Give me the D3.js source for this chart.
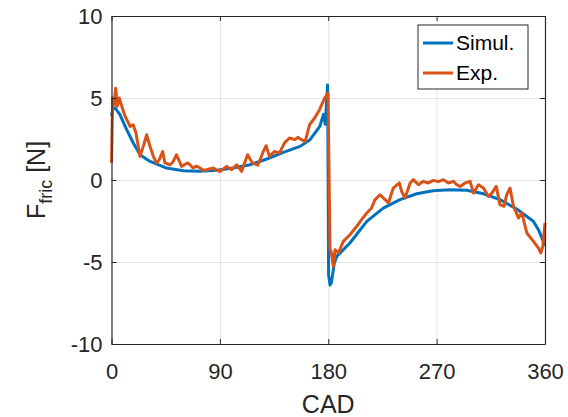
<!DOCTYPE html>
<html lang="en">
<head>
<meta charset="UTF-8">
<title>Friction force vs CAD</title>
<script src="https://cdnjs.cloudflare.com/ajax/libs/d3/7.8.5/d3.min.js"></script>
<style>
    * { margin: 0; padding: 0; }
    body { background: #fff; width: 568px; height: 417px; overflow: hidden; }
    text { font-family: 'Liberation Sans', Arial, sans-serif; }
</style>
</head>
<body>
<div id="chart"></div>
<script>
    // Simulated friction force (smooth)
    const simDeg = [0, 1, 3, 7, 12.6, 18, 23.7, 32, 45.8, 59.6, 73.5, 87.4, 101, 115, 129, 142.7, 156.6, 164.9, 173, 176, 177.5, 179.5,
        180.3, 181.5, 182.5, 185, 187, 198, 212, 225.7, 239.6, 253.5, 267, 281, 295, 309, 322.6, 336.5, 350.3, 355, 360];
    const simVal = [3.9, 4.3, 4.4, 3.98, 3.07, 2.27, 1.54, 1.13, 0.73, 0.57, 0.53, 0.59, 0.73, 0.93, 1.28, 1.68, 2.05, 2.46, 3.27, 4.0, 3.4, 5.8,
        -5.8, -6.4, -6.3, -5.1, -4.66, -3.84, -2.52, -1.71, -1.2, -0.84, -0.65, -0.59, -0.63, -0.84, -1.2, -1.77, -2.52, -3.1, -4.0];

    // Measured friction force (noisy)
    const expDeg = [0, 1, 2.2, 3.5, 4.8, 6.5, 8.5, 11.2, 13.3, 15.4, 18, 20.3, 23.7, 26.4, 29.2, 32, 34.7, 37.5, 39.7, 42.5, 44.4, 48.6,
        51, 54, 58.2, 61, 63.6, 67.8, 70.5, 73.5, 76, 79, 84.6, 87.5, 90, 95.7, 99.8, 104, 108, 113, 117, 121.5, 125.6, 128.4, 131.2,
        135.3, 139.5, 143.7, 147.8, 152, 155, 157.6, 160.9, 164.5, 168.7, 172.8, 177, 179.8, 181.5, 182.5, 184.2, 185.6, 188.4,
        192.5, 198, 203.6, 207.7, 212, 216, 218.8, 223, 227.2, 230, 234, 239, 241, 243.8, 248, 250.7, 254.9, 259, 263.1, 267.3,
        271.4, 275.6, 279.8, 284, 286.7, 289.5, 293.6, 297.8, 300.6, 304.7, 308.9, 313, 315.9, 319.5, 322.6, 326, 328.2, 331,
        333.8, 338, 340.7, 344.9, 350.4, 354.6, 356.5, 358.2, 360];
    const expVal = [1.05, 5.0, 4.6, 5.6, 4.5, 5.0, 4.5, 3.9, 3.6, 3.27, 3.37, 2.86, 1.44, 2.05, 2.76, 2.05, 1.44, 1.04, 1.24, 1.74, 1.04, 0.93,
        1.1, 1.54, 0.83, 0.95, 1.04, 0.73, 0.85, 0.73, 0.6, 0.63, 0.73, 0.6, 0.52, 0.83, 0.63, 0.93, 0.52, 1.54, 1.04, 0.9, 1.65, 2.09, 1.44,
        1.74, 1.65, 2.26, 2.56, 2.46, 2.6, 2.46, 2.35, 3.37, 3.78, 4.29, 5.0, 5.3, -4.25, -4.4, -5.27, -4.25, -4.45,
        -3.74, -3.34, -2.83, -2.42, -2.01, -1.71, -1.2, -0.9, -1.2, -1.4, -0.49, -0.18, -0.7, -1.1, -0.18, 0.02, -0.29, -0.08, -0.18, -0.02,
        -0.1, 0.02, -0.18, -0.08, -0.29, -0.39, -0.18, -0.08, -0.8, -0.29, -0.49, -1.0, -0.8, -0.39, -1.5, -1.6, -0.9, -0.49,
        -1.6, -2.32, -2.0, -3.23, -3.74, -4.15, -4.45, -4.05, -2.62];

    const xTicks = [0, 90, 180, 270, 360];
    const yTicks = [-10, -5, 0, 5, 10];
    const seriesNames = ['Simul.', 'Exp.'];
    const colors = ['#0072BD', '#D95319'];

    const W = 568, H = 417;
    const margin = {top: 16, right: 23, bottom: 73, left: 111.5};
    const width = W - margin.left - margin.right;
    const height = H - margin.top - margin.bottom;
    const axisColor = '#262626';

    const svg = d3.select('#chart').append('svg')
        .attr('width', W)
        .attr('height', H);

    const g = svg.append('g')
        .attr('transform', `translate(${margin.left},${margin.top})`);

    const x = d3.scaleLinear().domain([0, 360]).range([0, width]);
    const y = d3.scaleLinear().domain([-10, 10]).range([height, 0]);

    // Grid
    g.append('g')
        .attr('transform', `translate(0,${height})`)
        .call(d3.axisBottom(x).tickValues(xTicks.slice(1, -1)).tickSize(-height).tickFormat(''))
        .call(s => s.select('.domain').remove())
        .selectAll('line').attr('stroke', '#e3e3e3').attr('stroke-width', 1);
    g.append('g')
        .call(d3.axisLeft(y).tickValues(yTicks.slice(1, -1)).tickSize(-width).tickFormat(''))
        .call(s => s.select('.domain').remove())
        .selectAll('line').attr('stroke', '#e3e3e3').attr('stroke-width', 1);

    // Lines
    const line = d3.line().x(d => x(d[0])).y(d => y(d[1]));
    const series = [
        d3.zip(simDeg, simVal),
        d3.zip(expDeg, expVal)
    ];
    series.forEach((pts, i) => {
        g.append('path')
            .datum(pts)
            .attr('d', line)
            .attr('fill', 'none')
            .attr('stroke', colors[i])
            .attr('stroke-width', 3)
            .attr('stroke-linejoin', 'round');
    });

    // Axes (box with inward ticks), plain hyphen for negatives
    const fmt = d => String(d);
    function styleAxis(sel) {
        sel.select('.domain').attr('stroke', axisColor).attr('stroke-width', 1.2);
        sel.selectAll('.tick line').attr('stroke', axisColor).attr('stroke-width', 1);
        sel.selectAll('text').attr('fill', axisColor).style('font-size', '22px');
    }
    g.append('g')
        .attr('transform', `translate(0,${height})`)
        .call(d3.axisBottom(x).tickValues(xTicks).tickFormat(fmt).tickSizeInner(-5).tickSizeOuter(0).tickPadding(19))
        .call(styleAxis);
    g.append('g')
        .call(d3.axisTop(x).tickValues(xTicks).tickSizeInner(-5).tickSizeOuter(0).tickFormat(''))
        .call(styleAxis);
    g.append('g')
        .call(d3.axisLeft(y).tickValues(yTicks).tickFormat(fmt).tickSizeInner(-5).tickSizeOuter(0).tickPadding(9))
        .call(styleAxis);
    g.append('g')
        .attr('transform', `translate(${width},0)`)
        .call(d3.axisRight(y).tickValues(yTicks).tickSizeInner(-5).tickSizeOuter(0).tickFormat(''))
        .call(styleAxis);

    // Axis labels
    svg.append('text')
        .attr('x', margin.left + width / 2)
        .attr('y', 413)
        .attr('text-anchor', 'middle')
        .attr('fill', axisColor)
        .style('font-size', '25px')
        .text('CAD');

    const yl = svg.append('text')
        .attr('transform', `translate(45,${margin.top + height / 2}) rotate(-90)`)
        .attr('text-anchor', 'middle')
        .attr('fill', axisColor)
        .style('font-size', '25px');
    yl.append('tspan').text('F');
    yl.append('tspan').attr('dy', 7).style('font-size', '18px').text('fric');
    yl.append('tspan').attr('dy', -7).text(' [N]');

    // Legend
    const leg = svg.append('g').attr('transform', 'translate(418,25)');
    leg.append('rect')
        .attr('width', 110).attr('height', 64)
        .attr('fill', '#fff')
        .attr('stroke', axisColor).attr('stroke-width', 1);
    seriesNames.forEach((name, i) => {
        const yy = 18 + i * 30;
        leg.append('line')
            .attr('x1', 5).attr('x2', 35)
            .attr('y1', yy).attr('y2', yy)
            .attr('stroke', colors[i]).attr('stroke-width', 3);
        leg.append('text')
            .attr('x', 38).attr('y', yy + 7)
            .attr('fill', '#000')
            .style('font-size', '21px')
            .text(name);
    });
</script>
</body>
</html>
